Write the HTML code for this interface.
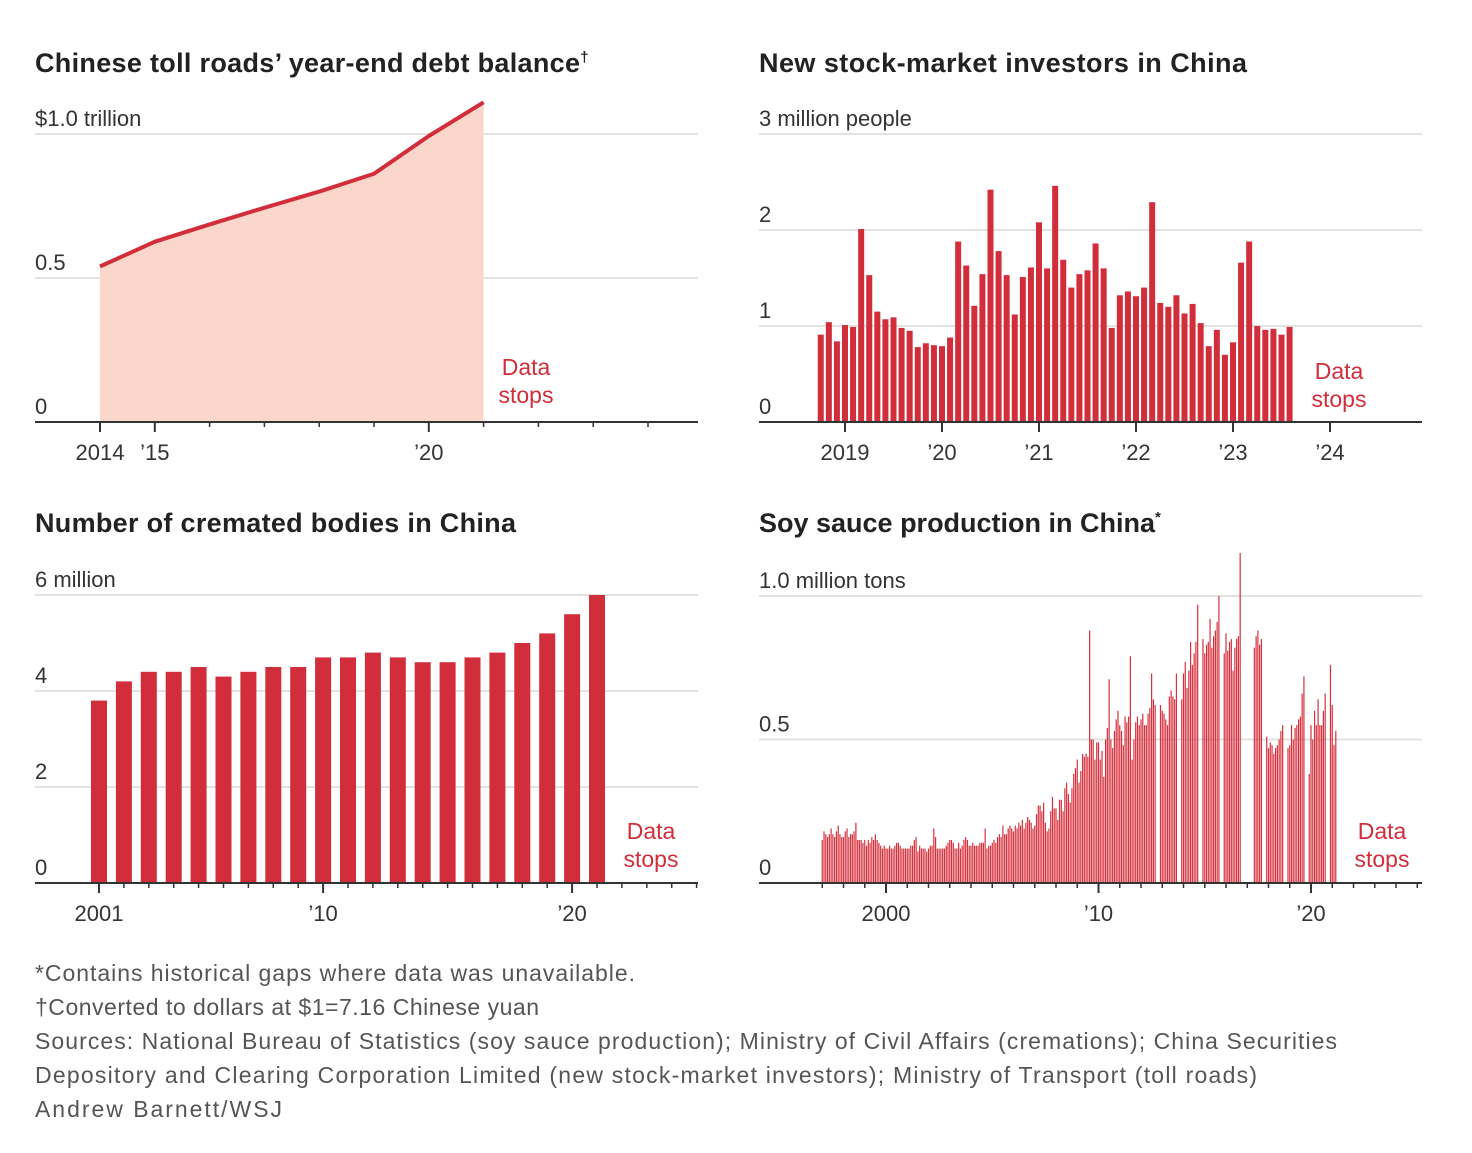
<!DOCTYPE html>
<html><head><meta charset="utf-8">
<style>
body{margin:0;background:#fff;width:1472px;height:1148px;overflow:hidden;font-family:"Liberation Sans",sans-serif;}
svg text{font-family:"Liberation Sans",sans-serif;}
</style></head>
<body>
<svg id="c" width="1472" height="1148" xmlns="http://www.w3.org/2000/svg">
<g font-size="27" font-weight="bold" fill="#222">
<text x="35" y="72"><tspan textLength="545" lengthAdjust="spacing">Chinese toll roads’ year-end debt balance</tspan><tspan font-size="15" dy="-10">†</tspan></text>
<text x="759" y="72" textLength="488" lengthAdjust="spacing">New stock-market investors in China</text>
<text x="35" y="532" textLength="481" lengthAdjust="spacing">Number of cremated bodies in China</text>
<text x="759" y="532"><tspan textLength="396" lengthAdjust="spacing">Soy sauce production in China</tspan><tspan font-size="15" dy="-10">*</tspan></text>
</g>
<g font-size="23" fill="#555">
<text x="35" y="981" textLength="600" lengthAdjust="spacing">*Contains historical gaps where data was unavailable.</text>
<text x="35" y="1015" textLength="504" lengthAdjust="spacing">†Converted to dollars at $1=7.16 Chinese yuan</text>
<text x="35" y="1049" textLength="1302" lengthAdjust="spacing">Sources: National Bureau of Statistics (soy sauce production); Ministry of Civil Affairs (cremations); China Securities</text>
<text x="35" y="1083" textLength="1222" lengthAdjust="spacing">Depository and Clearing Corporation Limited (new stock-market investors); Ministry of Transport (toll roads)</text>
<text x="35" y="1117" textLength="247" lengthAdjust="spacing">Andrew Barnett/WSJ</text>
</g>
</svg>
<script>
// ---- data ----
const tollYears=[2014,2015,2016,2017,2018,2019,2020,2021];
const tollValues=[0.54,0.626,0.686,0.744,0.80,0.862,0.993,1.11];
const stockStartYear=2018.75;
const stockValues=[0.91,1.04,0.84,1.01,0.99,2.01,1.53,1.15,1.07,1.09,0.98,0.95,0.78,0.82,0.80,0.79,0.88,1.88,1.63,1.21,1.54,2.42,1.78,1.53,1.12,1.51,1.61,2.08,1.60,2.46,1.69,1.40,1.54,1.58,1.86,1.60,0.98,1.32,1.36,1.31,1.40,2.29,1.24,1.20,1.32,1.13,1.23,1.03,0.79,0.96,0.70,0.83,1.66,1.88,1.00,0.96,0.97,0.91,0.99];
const cremYears=[2001,2002,2003,2004,2005,2006,2007,2008,2009,2010,2011,2012,2013,2014,2015,2016,2017,2018,2019,2020,2021];
const cremValues=[3.8,4.2,4.4,4.4,4.5,4.3,4.4,4.5,4.5,4.7,4.7,4.8,4.7,4.6,4.6,4.7,4.8,5.0,5.2,5.6,6.0];
const soyStartYear=1997.0;
const soyValues=[
0.15,0.18,0.17,0.16,0.17,0.19,0.17,0.16,0.18,0.20,0.17,0.16,
0.16,0.18,0.19,0.16,0.17,0.17,0.18,0.21,0.15,0.15,0.15,0.14,
0.15,0.13,0.15,0.14,0.16,0.15,0.17,0.15,0.14,0.13,0.12,0.13,
0.12,0.12,0.13,0.12,0.12,0.13,0.14,0.14,0.13,0.12,0.12,0.12,
0.12,0.12,0.13,0.13,0.15,0.16,0.11,0.13,0.12,0.12,0.12,0.11,
0.12,0.13,0.13,0.19,0.16,0.12,0.12,0.12,0.12,0.12,0.13,0.14,
0.15,0.15,0.14,0.12,0.12,0.14,0.12,0.13,0.15,0.16,0.15,0.13,
0.13,0.14,0.13,0.13,0.13,0.14,0.14,0.14,0.19,0.12,0.13,0.13,
0.14,0.15,0.14,0.16,0.17,0.16,0.20,0.17,0.17,0.19,0.20,0.19,
0.18,0.20,0.19,0.21,0.20,0.22,0.19,0.21,0.23,
0.22,0.21,0.19,0.20,0.24,0.27,0.27,0.25,0.28,0.21,0.18,0.19,
0.25,0.30,0.26,0.26,0.22,0.29,0.29,0.25,0.33,0.35,0.31,0.28,
0.33,0.38,0.40,0.43,0.35,0.39,0.45,0.44,0.45,0.44,0.88,0.50,
0.50,0.43,0.49,0.49,0.43,0.46,0.37,0.50,0.54,0.71,0.50,0.47,
0.53,0.57,0.60,0.55,0.53,0.48,0.58,0.56,0.58,0.79,0.43,0.50,
0.56,0.58,0.55,0.57,0.59,0.55,0.55,0.59,0.61,0.73,0.64,0.62,
null,null,0.62,0.60,0.59,0.57,0.55,0.65,0.67,0.65,0.64,0.73,
null,null,0.64,0.73,0.77,0.68,0.74,0.84,0.76,0.80,0.84,0.97,
null,null,0.85,0.80,0.83,0.84,0.92,0.82,0.86,0.88,0.91,1.00,
null,null,0.80,0.87,0.81,0.84,0.85,0.74,0.82,0.85,0.86,1.15,
null,null,null,null,null,null,null,0.82,0.86,0.88,0.83,0.85,
null,null,0.51,0.47,0.49,0.48,0.45,0.47,0.48,0.50,0.53,0.55,
null,null,0.47,0.48,0.55,0.50,0.54,0.55,0.57,0.58,0.66,0.72,
null,null,0.38,0.55,0.50,0.60,0.55,0.64,0.55,0.55,0.60,0.66,
null,null,0.76,0.62,0.48,0.53];
const tollTicks=[0,0.5,1.0];const tollTickLabels=["0","0.5","$1.0 trillion"];
const stockTicks=[0,1,2,3];const stockTickLabels=["0","1","2","3 million people"];
const cremTicks=[0,2,4,6];const cremTickLabels=["0","2","4","6 million"];
const soyTicks=[0,0.5,1.0];const soyTickLabels=["0","0.5","1.0 million tons"];
const tollXLabels=[[2014,"2014"],[2015,"’15"],[2020,"’20"]];
const stockXLabels=[[2019,"2019"],[2020,"’20"],[2021,"’21"],[2022,"’22"],[2023,"’23"],[2024,"’24"]];
const cremXLabels=[[2001,"2001"],[2010,"’10"],[2020,"’20"]];
const soyXLabels=[[2000,"2000"],[2010,"’10"],[2020,"’20"]];

const NS="http://www.w3.org/2000/svg",svg=document.getElementById('c');
const RED="#d12d3a";
function mk(t,a,p){const e=document.createElementNS(NS,t);for(const k in a)e.setAttribute(k,a[k]);(p||svg).appendChild(e);return e;}
function panel(o){
  const g=mk('g',{});
  
  
  const y=v=>o.y0-(v-o.vmin)*o.ys, x=t=>o.x0+(t-o.t0)*o.xs;
  o.ticks.forEach((v,i)=>{
    if(v!==0){const l=mk('line',{x1:o.left,x2:o.right,y1:y(v),y2:y(v),stroke:'#e2e2e2','stroke-width':2},g);
    
    }
    const t=mk('text',{x:o.left,y:y(v)-8,'font-size':22,fill:'#333','text-anchor':'start'},g);
    t.textContent=o.labels[i];
    
    
  });
  return {g,x,y};
}
function axis(p,o){
  const a=mk('line',{x1:o.left,x2:o.right,y1:o.y0,y2:o.y0,stroke:'#333','stroke-width':2},p.g);
  
  
  o.minor.forEach(t=>{const l=mk('line',{x1:p.x(t),x2:p.x(t),y1:o.y0,y2:o.y0+5,stroke:'#333','stroke-width':1.5},p.g);
    
    });
  o.xl.forEach(([t,s])=>{
    const l=mk('line',{x1:p.x(t),x2:p.x(t),y1:o.y0,y2:o.y0+10,stroke:'#333','stroke-width':2},p.g);
    
    
    const tx=mk('text',{x:p.x(t),y:o.y0+38,'font-size':22,fill:'#333','text-anchor':'middle'},p.g);
    tx.textContent=s;
    
    
  });
  const d=mk('text',{x:o.ds[0],y:o.ds[1],'font-size':23,fill:RED,'text-anchor':'middle'},p.g);
  d.innerHTML='<tspan x="'+o.ds[0]+'">Data</tspan><tspan x="'+o.ds[0]+'" dy="28">stops</tspan>';
  
  
}
function range(a,b,s){const r=[];for(let v=a;v<=b+1e-9;v+=s)r.push(v);return r;}

// Toll roads
let o={name:'toll-roads',left:35,right:698,y0:422,vmin:0,ys:288,x0:100,t0:2014,xs:54.8,ticks:tollTicks,labels:tollTickLabels};
let p=panel(o);
let pts=tollYears.map((t,i)=>p.x(t)+','+p.y(tollValues[i]));
let ar=mk('polygon',{points:p.x(tollYears[0])+','+o.y0+' '+pts.join(' ')+' '+p.x(tollYears[tollYears.length-1])+','+o.y0,fill:'#fbd6cb'},p.g);


let ln=mk('polyline',{points:pts.join(' '),fill:'none',stroke:RED,'stroke-width':4,'stroke-linejoin':'round'},p.g);


axis(p,{left:35,right:698,y0:422,minor:range(2014,2024,1),xl:tollXLabels,ds:[526,375]});

// Stock investors
o={name:'stock-investors',left:759,right:1422,y0:422,vmin:0,ys:96,x0:845,t0:2019,xs:97,ticks:stockTicks,labels:stockTickLabels};
p=panel(o);
stockValues.forEach((v,i)=>{const t=stockStartYear+i/12;
  const r=mk('rect',{x:p.x(t)-3,y:p.y(v),width:6,height:o.y0-p.y(v),fill:RED},p.g);
  
  });
axis(p,{left:759,right:1422,y0:422,minor:[],xl:stockXLabels,ds:[1339,379]});

// Cremation
o={name:'cremation',left:35,right:698,y0:883,vmin:0,ys:48,x0:99,t0:2001,xs:24.9,ticks:cremTicks,labels:cremTickLabels};
p=panel(o);
cremYears.forEach((t,i)=>{const v=cremValues[i];
  const r=mk('rect',{x:p.x(t)-8,y:p.y(v),width:16,height:o.y0-p.y(v),fill:RED},p.g);
  
  });
axis(p,{left:35,right:698,y0:883,minor:range(2001,2025,1),xl:cremXLabels,ds:[651,839]});

// Soy sauce
o={name:'soy-sauce',left:759,right:1422,y0:883,vmin:0,ys:287,x0:886,t0:2000,xs:21.25,ticks:soyTicks,labels:soyTickLabels};
p=panel(o);
soyValues.forEach((v,i)=>{if(v===null)return;const t=soyStartYear+i/12;
  const r=mk('rect',{x:p.x(t)-0.6,y:p.y(v),width:1.2,height:o.y0-p.y(v),fill:'#d7303c'},p.g);
  
  });
axis(p,{left:759,right:1422,y0:883,minor:range(1997,2025,1),xl:soyXLabels,ds:[1382,839]});
</script>
</body></html>
